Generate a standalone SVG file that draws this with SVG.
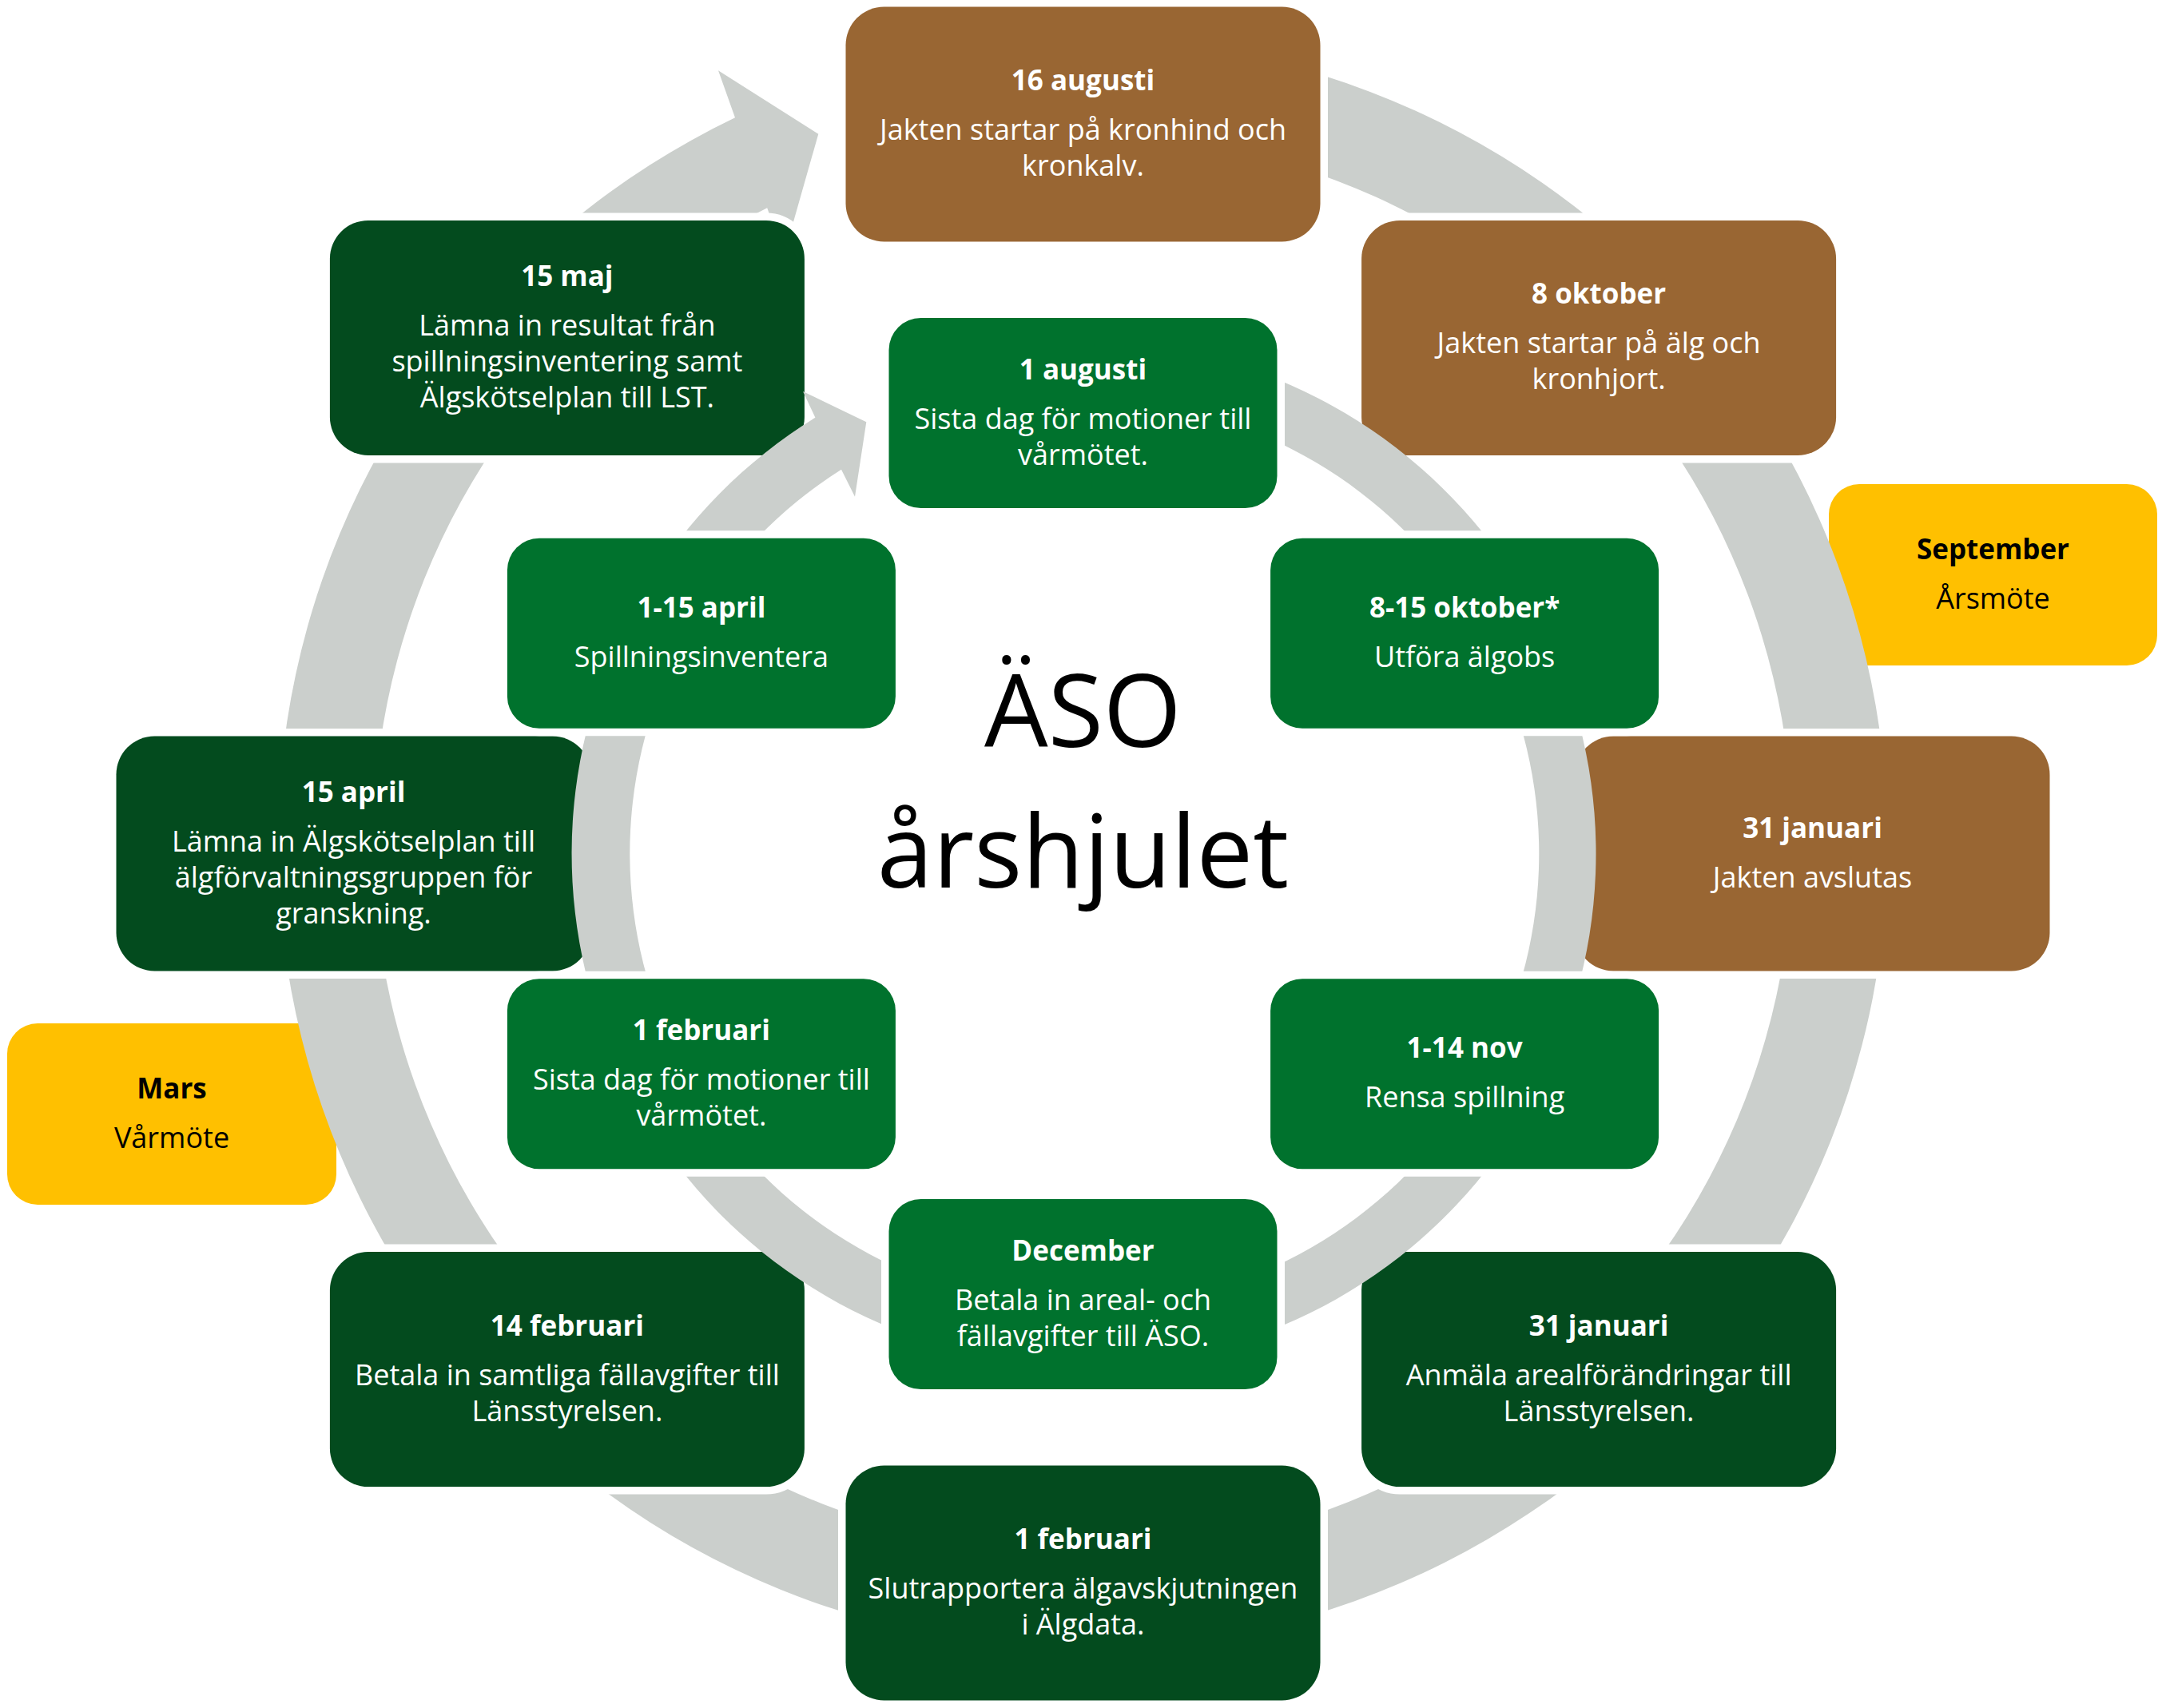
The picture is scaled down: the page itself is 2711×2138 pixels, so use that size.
<svg xmlns="http://www.w3.org/2000/svg" width="2711" height="2138" viewBox="0 0 2711 2138">
<style>
.box{stroke:#ffffff;stroke-width:19;paint-order:stroke}
.yb{stroke:none}
.brown{fill:#996633}
.dk{fill:#034B1E}
.gr{fill:#00722D}
.yl{fill:#FFC000}
.band{fill:#CBCFCC}
.t{font-family:"Open Sans","Liberation Sans",sans-serif;font-size:36px;fill:#ffffff;text-anchor:middle}
.b{font-weight:bold;font-size:35px}
.k{fill:#000000}
.title{font-family:"Open Sans","Liberation Sans",sans-serif;font-size:126px;fill:#000000;text-anchor:middle}
</style>
<rect width="2711" height="2138" fill="#ffffff"/>

<g id="yellow-september">
<rect class="yl yb" x="2289" y="606" width="411" height="227" rx="38"/>
<text class="t k"><tspan class="b" x="2494.5" y="699.5">September</tspan><tspan x="2494.5" y="761.5">Årsmöte</tspan></text>
</g>
<g id="yellow-mars">
<rect class="yl yb" x="9" y="1281" width="412" height="227" rx="38"/>
<text class="t k"><tspan class="b" x="215" y="1374.5">Mars</tspan><tspan x="215" y="1436.5">Vårmöte</tspan></text>
</g>

<g id="connectors-outer">
<path class="band" d="M1355.5 48.5 A1007.5 1007.5 0 1 1 920 147.3 L899 88.3 L1024.3 167.7 L981.2 319.3 L960.2 260.3 A888.5 888.5 0 1 0 1355.5 167.5 Z"/>
</g>

<g id="outer-nodes">
<g id="n-16aug">
<rect class="box brown" x="1058.5" y="8.5" width="594" height="294" rx="48"/>
<text class="t"><tspan class="b" x="1355.5" y="113">16 augusti</tspan><tspan x="1355.5" y="175">Jakten startar på kronhind och</tspan><tspan x="1355.5" y="220">kronkalv.</tspan></text>
</g>
<g id="n-8okt">
<rect class="box brown" x="1704.1" y="275.9" width="594" height="294" rx="48"/>
<text class="t"><tspan class="b" x="2001.1" y="380.4">8 oktober</tspan><tspan x="2001.1" y="442.4">Jakten startar på älg och</tspan><tspan x="2001.1" y="487.4">kronhjort.</tspan></text>
</g>
<g id="n-31jan-jakt">
<rect class="box brown" x="1971.5" y="921.5" width="594" height="294" rx="48"/>
<text class="t"><tspan class="b" x="2268.5" y="1048.5">31 januari</tspan><tspan x="2268.5" y="1110.5">Jakten avslutas</tspan></text>
</g>
<g id="n-31jan-areal">
<rect class="box dk" x="1704.1" y="1567.1" width="594" height="294" rx="48"/>
<text class="t"><tspan class="b" x="2001.1" y="1671.6">31 januari</tspan><tspan x="2001.1" y="1733.6">Anmäla arealförändringar till</tspan><tspan x="2001.1" y="1778.6">Länsstyrelsen.</tspan></text>
</g>
<g id="n-1feb-rapport">
<rect class="box dk" x="1058.5" y="1834.5" width="594" height="294" rx="48"/>
<text class="t"><tspan class="b" x="1355.5" y="1939">1 februari</tspan><tspan x="1355.5" y="2001">Slutrapportera älgavskjutningen</tspan><tspan x="1355.5" y="2046">i Älgdata.</tspan></text>
</g>
<g id="n-14feb">
<rect class="box dk" x="412.9" y="1567.1" width="594" height="294" rx="48"/>
<text class="t"><tspan class="b" x="709.9" y="1671.6">14 februari</tspan><tspan x="709.9" y="1733.6">Betala in samtliga fällavgifter till</tspan><tspan x="709.9" y="1778.6">Länsstyrelsen.</tspan></text>
</g>
<g id="n-15apr">
<rect class="box dk" x="145.5" y="921.5" width="594" height="294" rx="48"/>
<text class="t"><tspan class="b" x="442.5" y="1003.5">15 april</tspan><tspan x="442.5" y="1065.5">Lämna in Älgskötselplan till</tspan><tspan x="442.5" y="1110.5">älgförvaltningsgruppen för</tspan><tspan x="442.5" y="1155.5">granskning.</tspan></text>
</g>
<g id="n-15maj">
<rect class="box dk" x="412.9" y="275.9" width="594" height="294" rx="48"/>
<text class="t"><tspan class="b" x="709.9" y="357.9">15 maj</tspan><tspan x="709.9" y="419.9">Lämna in resultat från</tspan><tspan x="709.9" y="464.9">spillningsinventering samt</tspan><tspan x="709.9" y="509.9">Älgskötselplan till LST.</tspan></text>
</g>
</g>

<g id="connectors-inner">
<path class="band" d="M1355.5 427.5 A641 641 0 1 1 1020.4 522.7 L1005 490 L1084.3 528.3 L1070 621.7 L1053 587.7 A569 569 0 1 0 1355.5 499.5 Z"/>
</g>

<g id="inner-nodes">
<g id="i-1aug">
<rect class="box gr" x="1112.5" y="398" width="486" height="238" rx="40"/>
<text class="t"><tspan class="b" x="1355.5" y="474.5">1 augusti</tspan><tspan x="1355.5" y="536.5">Sista dag för motioner till</tspan><tspan x="1355.5" y="581.5">vårmötet.</tspan></text>
</g>
<g id="i-8-15okt">
<rect class="box gr" x="1590.1" y="673.75" width="486" height="238" rx="40"/>
<text class="t"><tspan class="b" x="1833.1" y="772.75">8-15 oktober*</tspan><tspan x="1833.1" y="834.75">Utföra älgobs</tspan></text>
</g>
<g id="i-1-14nov">
<rect class="box gr" x="1590.1" y="1225.25" width="486" height="238" rx="40"/>
<text class="t"><tspan class="b" x="1833.1" y="1324.25">1-14 nov</tspan><tspan x="1833.1" y="1386.25">Rensa spillning</tspan></text>
</g>
<g id="i-dec">
<rect class="box gr" x="1112.5" y="1501" width="486" height="238" rx="40"/>
<text class="t"><tspan class="b" x="1355.5" y="1577.5">December</tspan><tspan x="1355.5" y="1639.5">Betala in areal- och</tspan><tspan x="1355.5" y="1684.5">fällavgifter till ÄSO.</tspan></text>
</g>
<g id="i-1feb">
<rect class="box gr" x="634.9" y="1225.25" width="486" height="238" rx="40"/>
<text class="t"><tspan class="b" x="877.9" y="1301.75">1 februari</tspan><tspan x="877.9" y="1363.75">Sista dag för motioner till</tspan><tspan x="877.9" y="1408.75">vårmötet.</tspan></text>
</g>
<g id="i-1-15apr">
<rect class="box gr" x="634.9" y="673.75" width="486" height="238" rx="40"/>
<text class="t"><tspan class="b" x="877.9" y="772.75">1-15 april</tspan><tspan x="877.9" y="834.75">Spillningsinventera</tspan></text>
</g>
</g>

<g id="title">
<text class="title"><tspan x="1355.5" y="935">ÄSO</tspan><tspan x="1355.5" y="1111">årshjulet</tspan></text>
</g>
</svg>
